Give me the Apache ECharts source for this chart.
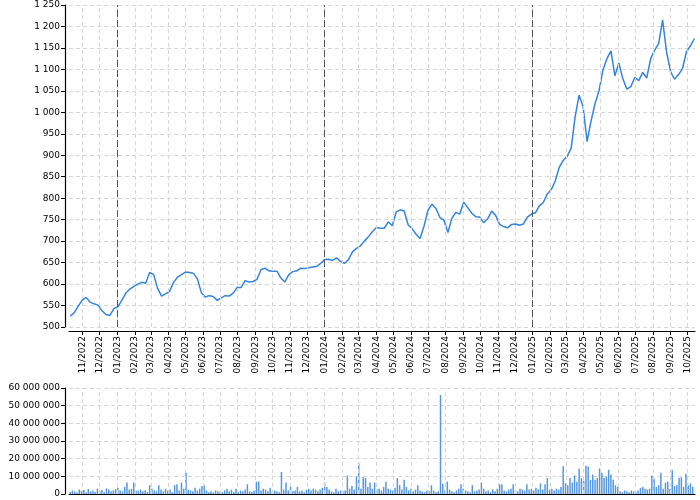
<!DOCTYPE html>
<html>
<head>
<meta charset="utf-8">
<script src="https://cdn.jsdelivr.net/npm/echarts@6/dist/echarts.min.js"></script>
<style>
  html, body { margin: 0; padding: 0; background: #fff; }
  #chart { width: 700px; height: 500px; }
</style>
</head>
<body>
<div id="chart"></div>
<script>
// weekly closes, first one on 2022-10-10
const priceStart = [2022, 10, 10]
const priceStepDays = 7
const prices = [
  525, 533, 548, 562, 569, 558, 554, 551, 538, 529,
  527, 543, 547, 562, 579, 588, 594, 600, 604, 602,
  627, 622, 590, 572, 577, 583, 604, 616, 622, 628,
  627, 625, 612, 580, 570, 573, 571, 562, 568, 573,
  572, 579, 592, 592, 608, 605, 606, 611, 634, 637,
  631, 630, 630, 614, 605, 622, 629, 631, 637, 636,
  638, 640, 641, 648, 657, 658, 655, 661, 653, 648,
  657, 675, 683, 689, 700, 710, 722, 732, 730, 730,
  745, 736, 768, 773, 770, 738, 729, 716, 706, 735,
  772, 786, 776, 755, 749, 720, 753, 767, 763, 791,
  778, 765, 757, 756, 743, 752, 770, 760, 739, 734,
  731, 739, 740, 737, 740, 756, 763, 766, 782, 790,
  810, 820, 840, 872, 888, 898, 916, 990, 1040, 1013,
  932, 980, 1020, 1050, 1099, 1125, 1143, 1085, 1115, 1078,
  1054, 1060, 1081, 1074, 1093, 1080, 1125, 1145, 1160, 1215,
  1140, 1095, 1077, 1088, 1102, 1141, 1155, 1172,
]

// volume in millions, one bar every 4 days from 2022-10-10
const volumeStart = [2022, 10, 10]
const volumeStepDays = 4
const volumes = [
  1.2, 2.0, 1.5, 0.8, 2.5, 1.8, 2.2, 1.0, 2.8, 1.5,
  2.0, 1.2, 3.0, 1.8, 2.2, 1.0, 3.2, 2.5, 1.5, 2.0,
  2.8, 3.5, 2.0, 1.5, 4.0, 6.5, 2.5, 3.0, 6.5, 2.0,
  1.8, 2.5, 1.5, 2.0, 1.2, 5.0, 3.0, 2.0, 1.5, 5.0,
  2.5, 1.5, 3.0, 2.0, 2.5, 1.0, 5.0, 5.5, 2.0, 6.5,
  3.0, 12.0, 2.5, 2.0, 1.5, 3.5, 2.0, 3.0, 4.5, 5.0,
  2.0, 1.0, 1.5, 0.8, 2.0, 1.5, 1.2, 1.0, 2.0, 3.0,
  1.5, 2.5, 1.2, 3.0, 1.0, 2.0, 1.5, 2.5, 5.5, 1.5,
  1.2, 2.0, 7.0, 7.0, 2.0, 3.0, 2.5, 1.5, 3.5, 1.5,
  2.0, 1.5, 1.0, 12.5, 2.5, 6.5, 2.0, 4.5, 1.5, 2.0,
  4.0, 1.5, 2.0, 1.0, 2.5, 3.0, 2.0, 3.0, 2.5, 1.5,
  2.5, 3.5, 6.5, 4.0, 2.5, 1.5, 1.0, 3.0, 1.5, 2.0,
  1.5, 2.0, 10.5, 3.0, 4.5, 2.5, 10.0, 17.5, 3.0, 9.5,
  9.0, 4.0, 6.5, 3.0, 6.5, 2.5, 3.0, 2.0, 4.0, 7.0,
  3.0, 2.5, 2.0, 3.5, 9.0, 5.0, 2.5, 8.0, 4.0, 2.0,
  3.0, 1.5, 2.5, 5.0, 2.0, 1.5, 1.0, 2.0, 1.5, 5.0,
  2.0, 1.0, 1.5, 56.0, 6.0, 2.0, 7.0, 2.5, 1.5, 1.0,
  2.0, 3.0, 5.5, 3.0, 2.0, 1.5, 1.0, 5.0, 1.5, 2.0,
  2.5, 6.5, 3.0, 1.5, 2.0, 1.0, 2.5, 1.5, 3.0, 5.5,
  5.5, 2.0, 1.5, 2.5, 3.0, 5.5, 2.0, 1.5, 3.0, 2.5,
  2.0, 5.5, 2.5, 3.0, 2.0, 3.5, 2.5, 6.0, 2.5, 5.5,
  9.0, 2.5, 3.0, 2.0, 3.0, 2.5, 4.0, 15.7, 6.0, 5.0,
  9.0, 6.5, 10.5, 7.0, 14.5, 9.0, 7.5, 16.0, 15.5, 8.0,
  11.0, 8.0, 9.0, 14.5, 12.0, 9.0, 10.0, 13.7, 11.0, 8.0,
  5.0, 4.0, 1.5, 1.0, 2.0, 1.5, 1.0, 2.0, 1.5, 1.0,
  2.0, 3.5, 4.0, 3.0, 2.5, 3.0, 10.5, 8.5, 4.0, 5.0,
  12.0, 3.0, 6.5, 7.0, 3.0, 13.5, 4.5, 5.0, 9.0, 9.5,
  4.0, 11.5, 5.0, 6.0, 4.0,
]

// month ticks shown on the axis
const monthTicks = [
  '2022-11', '2022-12', '2023-01', '2023-02', '2023-03', '2023-04', '2023-05', '2023-06',
  '2023-07', '2023-08', '2023-09', '2023-10', '2023-11', '2023-12', '2024-01', '2024-02',
  '2024-03', '2024-04', '2024-05', '2024-06', '2024-07', '2024-08', '2024-09', '2024-10',
  '2024-11', '2024-12', '2025-01', '2025-02', '2025-03', '2025-04', '2025-05', '2025-06',
  '2025-07', '2025-08', '2025-09', '2025-10',
]
const yearMarks = ['2023-01', '2024-01', '2025-01']

const DAY = 86400000
const toTime = s => {
  const p = s.split('-').map(Number)
  return new Date(p[0], p[1] - 1, p[2] || 1).getTime()
}
const startTime = a => new Date(a[0], a[1] - 1, a[2]).getTime()
const xMin = new Date(2022, 9, 8).getTime()
const xMax = new Date(2025, 9, 14).getTime()

const priceData = prices.map((v, i) => [startTime(priceStart) + i * priceStepDays * DAY, v])
const volumeData = volumes.map((v, i) => [startTime(volumeStart) + i * volumeStepDays * DAY, v * 1e6])
const tickValues = monthTicks.map(toTime)

const spaced = v => String(v).replace(/\B(?=(\d{3})+(?!\d))/g, ' ')
const monthLabel = v => {
  const d = new Date(v)
  return String(d.getMonth() + 1).padStart(2, '0') + '/' + d.getFullYear()
}

const font = { fontFamily: 'DejaVu Sans', fontSize: 9, color: '#000' }
const gridStyle = { color: '#d6d6d6', type: [4, 3], width: 1 }
const gridLine = { show: true, lineStyle: gridStyle }
const blackLine = { show: true, lineStyle: { color: '#000', width: 1.2 } }

// vertical month grid lines, drawn under the data
const monthGrid = (xi, yi) => ({
  type: 'line',
  xAxisIndex: xi,
  yAxisIndex: yi,
  data: [],
  z: 1,
  silent: true,
  markLine: {
    silent: true,
    symbol: ['none', 'none'],
    label: { show: false },
    lineStyle: gridStyle,
    data: tickValues.map(t => ({ xAxis: t })),
  },
})

const chart = echarts.init(document.getElementById('chart'), null, { renderer: 'canvas' })
chart.setOption({
  animation: false,
  backgroundColor: '#fff',
  grid: [
    { left: 69, right: 5, top: 5, height: 322, outerBoundsMode: 'none' },
    { left: 69, right: 5, top: 388, height: 106, outerBoundsMode: 'none' },
  ],
  // dates kept as timestamps on a value axis so the month ticks can be placed exactly
  xAxis: [
    {
      type: 'value',
      gridIndex: 0,
      min: xMin,
      max: xMax,
      offset: 4,
      axisLine: blackLine,
      axisTick: { show: true, length: 4, customValues: tickValues, lineStyle: { color: '#000' } },
      axisLabel: { ...font, rotate: 90, margin: 5, customValues: tickValues, formatter: monthLabel },
      splitLine: { show: false },
    },
    {
      type: 'value',
      gridIndex: 1,
      min: xMin,
      max: xMax,
      axisLine: blackLine,
      axisTick: { show: false },
      axisLabel: { show: false },
      splitLine: { show: false },
    },
  ],
  yAxis: [
    {
      type: 'value',
      gridIndex: 0,
      min: 500,
      max: 1250,
      interval: 50,
      offset: 4,
      axisLine: blackLine,
      axisTick: { show: true, length: 4, lineStyle: { color: '#000' } },
      axisLabel: { ...font, margin: 5, formatter: spaced },
      splitLine: gridLine,
    },
    {
      type: 'value',
      gridIndex: 1,
      min: 0,
      max: 60000000,
      interval: 10000000,
      offset: 4,
      axisLine: blackLine,
      axisTick: { show: true, length: 4, lineStyle: { color: '#000' } },
      axisLabel: { ...font, margin: 5, formatter: spaced },
      splitLine: gridLine,
    },
  ],
  series: [
    monthGrid(0, 0),
    monthGrid(1, 1),
    {
      name: 'price',
      type: 'line',
      xAxisIndex: 0,
      yAxisIndex: 0,
      data: priceData,
      showSymbol: false,
      z: 3,
      lineStyle: { color: '#3584dc', width: 1.5 },
      itemStyle: { color: '#3584dc' },
      markLine: {
        silent: true,
        symbol: ['none', 'none'],
        label: { show: false },
        lineStyle: { color: '#555', type: [7, 3], width: 1 },
        data: yearMarks.map(m => ({ xAxis: toTime(m) })),
      },
    },
    {
      name: 'volume',
      type: 'bar',
      xAxisIndex: 1,
      yAxisIndex: 1,
      data: volumeData,
      barWidth: 1.5,
      z: 3,
      itemStyle: { color: '#3a86d9', opacity: 0.85 },
    },
  ],
})
</script>
</body>
</html>
